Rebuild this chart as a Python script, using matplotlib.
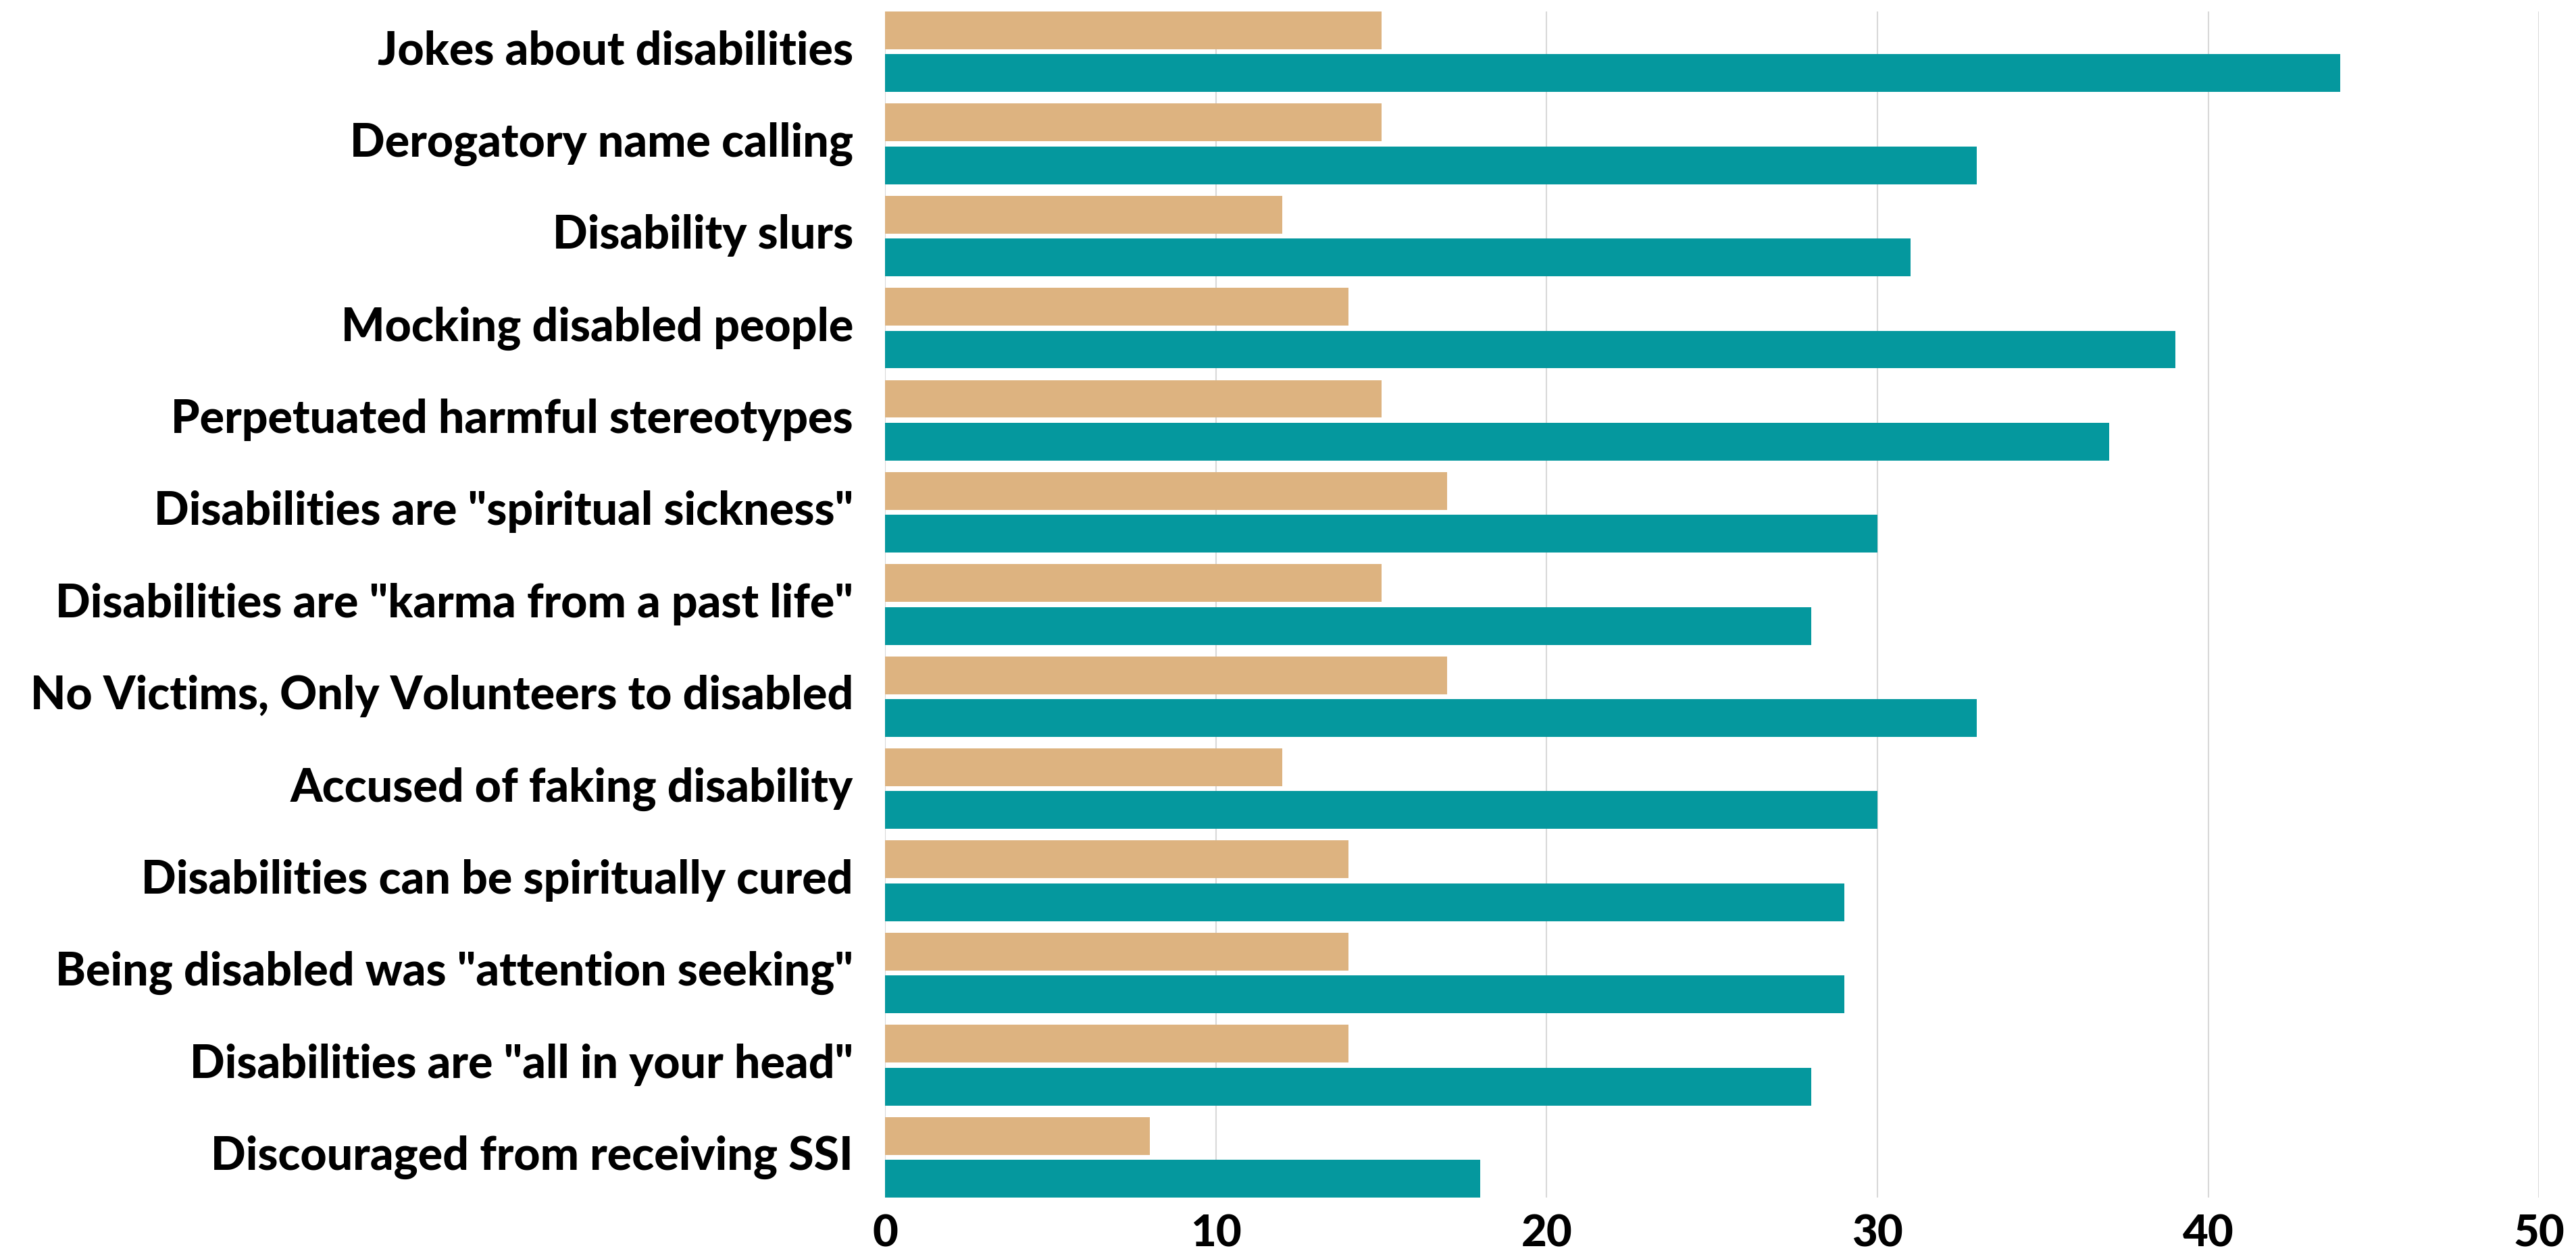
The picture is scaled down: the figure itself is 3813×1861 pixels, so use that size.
import matplotlib.pyplot as plt
import numpy as np

# categories top to bottom
categories = [
    "Jokes about disabilities",
    "Derogatory name calling",
    "Disability slurs",
    "Mocking disabled people",
    "Perpetuated harmful stereotypes",
    'Disabilities are "spiritual sickness"',
    'Disabilities are "karma from a past life"',
    "No Victims, Only Volunteers to disabled",
    "Accused of faking disability",
    "Disabilities can be spiritually cured",
    'Being disabled was "attention seeking"',
    'Disabilities are "all in your head"',
    "Discouraged from receiving SSI",
]
tan_values = [15, 15, 12, 14, 15, 17, 15, 17, 12, 14, 14, 14, 8]
teal_values = [44, 33, 31, 39, 37, 30, 28, 33, 30, 29, 29, 28, 18]
x_ticks = [0, 10, 20, 30, 40, 50]

tan_color = "#DDB380"
teal_color = "#05989E"

plt.rcParams['font.family'] = ['Lato', 'DejaVu Sans']

fig = plt.figure(figsize=(38.13, 18.61), dpi=100)
ax = fig.add_axes([0.3436, 0.0473, 0.642, 0.9436])

y = np.arange(len(categories))
h = 0.41
ax.barh(y - 0.2325, tan_values, height=h, color=tan_color, zorder=3)
ax.barh(y + 0.2325, teal_values, height=h, color=teal_color, zorder=3)

ax.set_ylim(len(categories) - 0.5625, -0.4375)
ax.set_xlim(0, 50)
ax.set_xticks(x_ticks)
ax.set_yticks(y - 0.05)
ax.set_yticklabels(categories, fontsize=49, fontweight="black")
ax.tick_params(axis="y", length=0, pad=34)
ax.tick_params(axis="x", length=0, pad=18, labelsize=47)
for lab in ax.get_xticklabels():
    lab.set_fontweight("black")
for lab in ax.get_yticklabels():
    lab.set_va("center_baseline")

ax.grid(axis="x", color="#d9d9d9", linewidth=1.5, zorder=0)
for s in ax.spines.values():
    s.set_visible(False)
ax.axvline(0, color="#d9d9d9", linewidth=1.5, zorder=0)

plt.savefig("out.png", dpi=100)
